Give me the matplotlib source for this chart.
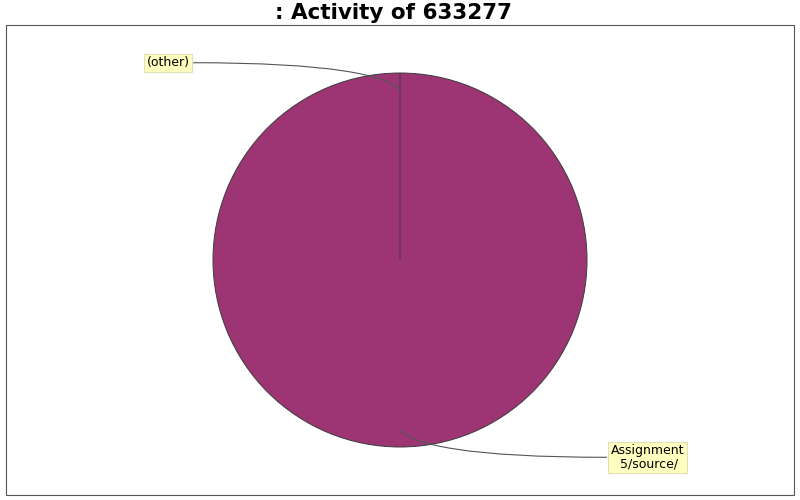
import matplotlib
matplotlib.use("Agg")
import matplotlib.pyplot as plt
from matplotlib.path import Path
from matplotlib.patches import PathPatch, Rectangle
import numpy as np

title = ": Activity of 633277"
labels = ["Assignment\n 5/source/", "(other)"]
values = [100.0, 0.0]
colors = ["#9D3575", "#9D3575"]

W, H = 800, 500
fig = plt.figure(figsize=(8, 5), dpi=100)
ax = fig.add_axes([0, 0, 1, 1])

cx, cy, r = 400, 240, 187
wedges, _ = ax.pie(values, colors=colors, startangle=90, counterclock=False,
                   center=(cx, cy), radius=r, frame=True,
                   wedgeprops=dict(edgecolor="#3a3a3a", linewidth=0.7))
ax.set_xlim(0, W)
ax.set_ylim(0, H)
ax.set_aspect("equal")
ax.axis("off")

# plot frame
ax.add_patch(Rectangle((5.5, 5), 788.5, 470, fill=False, edgecolor="#555555", lw=0.8))
fig.text(393.5 / W, 1 - 13 / H, title, ha="center", va="center", fontsize=15.5,
         fontweight="bold", family="DejaVu Sans")

total = sum(values)
angle = 90.0
for lab, v in zip(labels, values):
    span = 360.0 * v / total
    mid = np.deg2rad(angle - span / 2)
    angle -= span
    dx, dy = np.cos(mid), np.sin(mid)
    ax0 = cx + 0.91 * r * dx
    ay0 = cy + 0.91 * r * dy
    ly = cy + 1.055 * r * np.sign(dy)
    if lab == "(other)":
        ex, tx = 191, 168
    else:
        ex, tx = 607, 647.5
    verts = [(ax0, ay0),
             (ax0 + 0.07 * (ex - ax0), ay0 + 0.55 * (ly - ay0)),
             (ax0 + 0.33 * (ex - ax0), ly),
             (ex, ly)]
    codes = [Path.MOVETO, Path.CURVE4, Path.CURVE4, Path.CURVE4]
    ax.add_patch(PathPatch(Path(verts, codes), fill=False, edgecolor="#555555", lw=0.8))
    ax.text(tx, ly, lab, ha="center", va="center", fontsize=9, family="DejaVu Sans",
            linespacing=1.0,
            bbox=dict(boxstyle="square,pad=0.2", facecolor="#FFFFC0", edgecolor="#E0E0B8", lw=0.8))

fig.savefig("out.png", dpi=100)
